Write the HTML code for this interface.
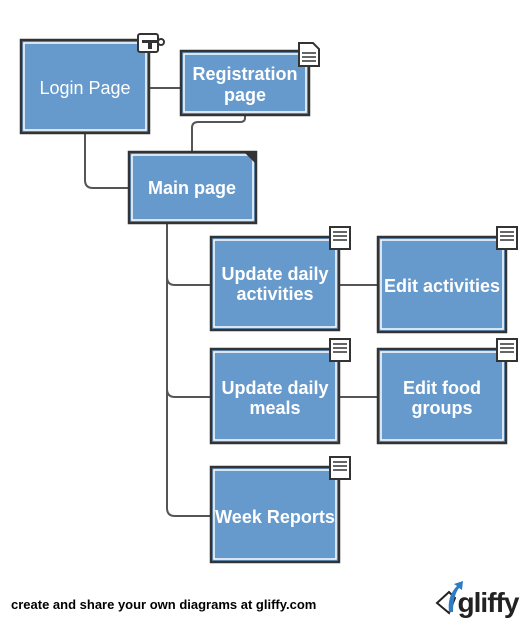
<!DOCTYPE html>
<html><head><meta charset="utf-8"><style>
html,body{margin:0;padding:0;background:#fff;width:527px;height:621px;overflow:hidden}
svg text{font-family:"Liberation Sans",Arial,sans-serif;fill:#fff;font-weight:bold;text-anchor:middle}
</style></head><body>
<svg width="527" height="621" viewBox="0 0 527 621" xmlns="http://www.w3.org/2000/svg">
<g fill="none" stroke="#555" stroke-width="2">
<path d="M150 88H180"/>
<path d="M245 116V118Q245 122 240 122H198Q192 122 192 128V152"/>
<path d="M85 134V180Q85 188 93 188H128"/>
<path d="M167 224V508Q167 516 175 516H210"/>
<path d="M167 277Q167 285 175 285H210"/>
<path d="M167 389Q167 397 175 397H210"/>
<path d="M340 285H377"/>
<path d="M340 397H377"/>
</g>
<g stroke="#333" stroke-width="2.5" fill="#6699cc">
<rect x="21" y="40" width="128" height="93"/>
<rect x="181" y="51" width="128" height="64"/>
<rect x="129" y="152" width="127" height="71"/>
<rect x="211" y="237" width="128" height="93"/>
<rect x="378" y="237" width="128" height="95"/>
<rect x="211" y="349" width="128" height="94"/>
<rect x="378" y="349" width="128" height="94"/>
<rect x="211" y="467" width="128" height="95"/>
</g>
<g stroke="#fff" stroke-width="1.5" fill="none">
<rect x="24" y="43" width="122" height="87"/>
<rect x="184" y="54" width="122" height="58"/>
<rect x="132" y="155" width="121" height="65"/>
<rect x="214" y="240" width="122" height="87"/>
<rect x="381" y="240" width="122" height="89"/>
<rect x="214" y="352" width="122" height="88"/>
<rect x="381" y="352" width="122" height="88"/>
<rect x="214" y="470" width="122" height="89"/>
</g>
<path d="M243 151H257V165Z" fill="#333"/>
<g stroke="#333" stroke-width="2" fill="#fff">
<rect x="138" y="34" width="20" height="18" rx="2"/>
<circle cx="161" cy="42" r="3"/>
</g>
<path d="M142 40h16v3h-6v6h-4v-6h-6z" fill="#333"/>
<g stroke="#333" stroke-width="2" fill="#fff">
<path d="M299 43H313L319 49V66H299Z"/>
</g>
<g stroke="#333" stroke-width="1.5"><path d="M302 53h14M302 57h14M302 61h14"/></g>
<g id="n">
<rect x="330" y="227" width="20" height="22" fill="#fff" stroke="#333" stroke-width="2"/>
<path d="M333 232h14M333 236h14M333 240h14" stroke="#333" stroke-width="1.5"/>
</g>
<use href="#n" x="167" y="0"/>
<use href="#n" x="0" y="112"/>
<use href="#n" x="167" y="112"/>
<use href="#n" x="0" y="230"/>
<g font-size="18">
<text x="85" y="94" style="font-weight:normal">Login Page</text>
<text x="245" y="80">Registration</text>
<text x="245" y="101">page</text>
<text x="192" y="194">Main page</text>
<text x="275" y="280">Update daily</text>
<text x="275" y="300">activities</text>
<text x="442" y="292">Edit activities</text>
<text x="275" y="394">Update daily</text>
<text x="275" y="414">meals</text>
<text x="442" y="394">Edit food</text>
<text x="442" y="414">groups</text>
<text x="275" y="523">Week Reports</text>
</g>
<text x="11" y="609" font-size="13" style="fill:#000;text-anchor:start">create and share your own diagrams at gliffy.com</text>
<path d="M437 603L449 592L455 598L449 613Z" fill="#fff" stroke="#222" stroke-width="2"/>
<path d="M449 612Q447 596 457 586L454 584L463 581L462 590L459 588Q453 596 453 612Z" fill="#2e7cc4"/>
<text x="488" y="612" font-size="28" style="fill:#222;letter-spacing:-1px">gliffy</text>
</svg>
</body></html>
